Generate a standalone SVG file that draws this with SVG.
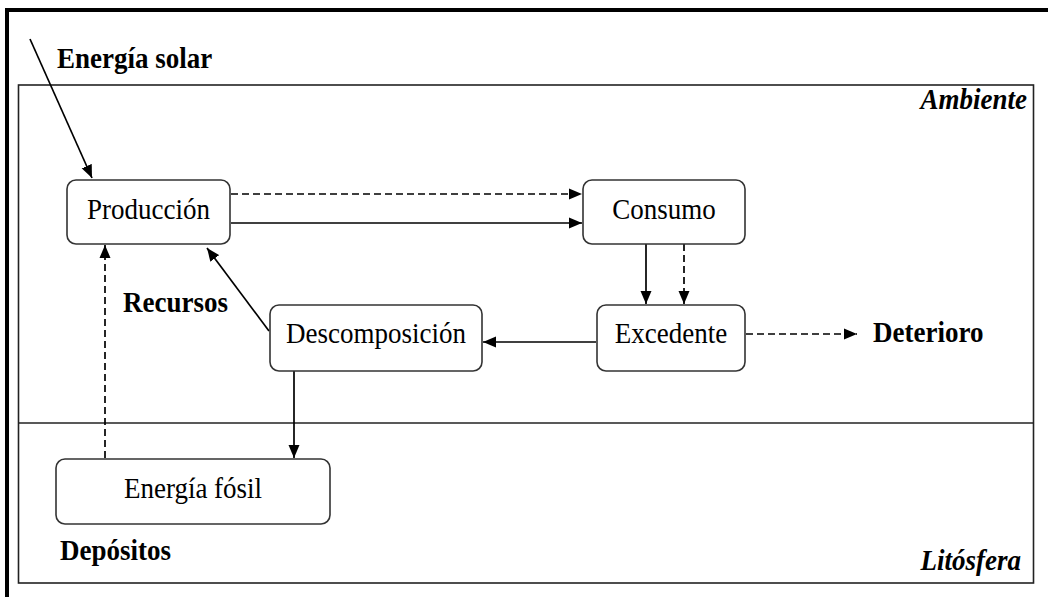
<svg xmlns="http://www.w3.org/2000/svg" width="1048" height="597" viewBox="0 0 1048 597">
  <defs>
    <marker id="arrow" viewBox="0 0 13 12" refX="13" refY="6" markerWidth="13" markerHeight="12" markerUnits="userSpaceOnUse" orient="auto">
      <path d="M0,0.5 L13,6 L0,11.5 Z" fill="#000"/>
    </marker>
    <style>
      .frame { fill: none; stroke: #000; stroke-width: 4; }
      .zone { fill: none; stroke: #222; stroke-width: 1.6; }
      .box { fill: #fff; stroke: #333; stroke-width: 1.6; }
      .label { font-family: "Liberation Serif", "Times New Roman", serif; font-size: 27px; fill: #000; }
      .bold { font-weight: bold; }
      .ital { font-weight: bold; font-style: italic; }
      .link { fill: none; stroke: #000; stroke-width: 1.7; marker-end: url(#arrow); }
      .dash { stroke-dasharray: 7 4; }
      .mid { text-anchor: middle; }
      .end { text-anchor: end; }
    </style>
  </defs>

  <rect width="1048" height="597" fill="#fff"/>

  <!-- outer frame, continues past the right and bottom edges -->
  <rect class="frame" x="7" y="10" width="1100" height="700"/>

  <!-- environment / lithosphere zones -->
  <g id="zones">
    <rect class="zone" x="18.5" y="85" width="1015" height="498"/>
    <line class="zone" x1="18.5" y1="423" x2="1033.5" y2="423"/>
    <text class="label ital end" transform="translate(1027,109) scale(1,1.1)">Ambiente</text>
    <text class="label ital end" transform="translate(1021,570) scale(1,1.1)">Litósfera</text>
  </g>

  <!-- connectors -->
  <g id="connectors">
    <line class="link" x1="30" y1="39" x2="92" y2="178"/>
    <line class="link dash" x1="231" y1="194" x2="582" y2="194"/>
    <line class="link" x1="231" y1="223" x2="582" y2="223"/>
    <line class="link" x1="646" y1="244" x2="646" y2="304"/>
    <line class="link dash" x1="684" y1="244" x2="684" y2="304"/>
    <line class="link" x1="596" y1="342" x2="483" y2="342"/>
    <line class="link dash" x1="746" y1="334" x2="857" y2="334"/>
    <line class="link" x1="269" y1="331" x2="207" y2="248"/>
    <line class="link dash" x1="105" y1="458" x2="105" y2="245"/>
    <line class="link" x1="294" y1="371" x2="294" y2="458"/>
  </g>

  <!-- free labels -->
  <g id="labels">
    <text class="label bold" transform="translate(57,68) scale(1,1.1)">Energía solar</text>
    <text class="label bold" transform="translate(123,312) scale(1,1.1)">Recursos</text>
    <text class="label bold" transform="translate(873,342) scale(1,1.1)">Deterioro</text>
    <text class="label bold" transform="translate(60,560) scale(1,1.1)">Depósitos</text>
  </g>

  <g id="produccion">
    <rect class="box" x="67" y="180" width="163" height="64" rx="9"/>
    <text class="label mid" transform="translate(148.5,219) scale(1,1.1)">Producción</text>
  </g>

  <g id="consumo">
    <rect class="box" x="583" y="180" width="162" height="64" rx="9"/>
    <text class="label mid" transform="translate(664,219) scale(1,1.1)">Consumo</text>
  </g>

  <g id="excedente">
    <rect class="box" x="597" y="305" width="148" height="66" rx="9"/>
    <text class="label mid" transform="translate(671,343) scale(1,1.1)">Excedente</text>
  </g>

  <g id="descomposicion">
    <rect class="box" x="270" y="305" width="212" height="66" rx="9"/>
    <text class="label mid" transform="translate(376,343) scale(1,1.1)">Descomposición</text>
  </g>

  <g id="energia-fosil">
    <rect class="box" x="56" y="459" width="274" height="65" rx="9"/>
    <text class="label mid" transform="translate(193,498) scale(1,1.1)">Energía fósil</text>
  </g>
</svg>
